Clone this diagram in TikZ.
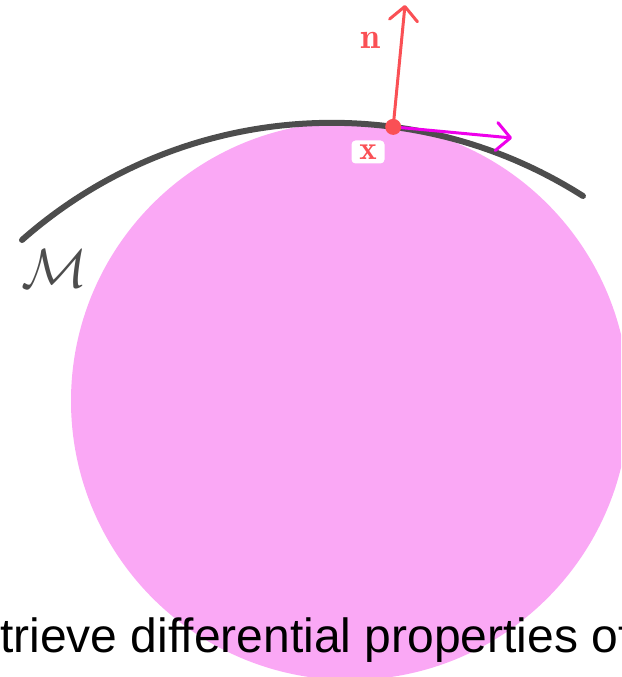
\documentclass[tikz,border=0pt]{standalone}
\usepackage{graphicx}
\usepackage{fontspec}
\newfontfamily\arialfont{Liberation Sans}
\usetikzlibrary{arrows.meta}
\definecolor{pinkfill}{RGB}{250,168,245}
\definecolor{curvegray}{RGB}{77,77,77}
\definecolor{normred}{RGB}{250,80,85}
\definecolor{tanmag}{RGB}{238,0,235}
\tikzset{
  manifold/.style={draw=curvegray, line width=6pt, line cap=round},
  vecarrow/.style={line width=3pt, line cap=round, line join=round,
    -{Straight Barb[length=14pt,width=28pt,line cap=round,line join=round]}},
  xlabel/.style={fill=white, rounded corners=4pt, minimum width=33pt, minimum height=23pt, inner sep=0pt, text=normred},
}
\begin{document}
\begin{tikzpicture}[x=1pt,y=1pt]
\useasboundingbox (0,0) rectangle (621,677);
\clip (0,0) rectangle (621,677);
% pink disk
\fill[pinkfill] (350,276) circle[radius=279];
% manifold curve
\draw[manifold] ([shift={(331.7,86.3)}]131.45:467.9) arc[start angle=131.45, end angle=57.52, radius=467.9];
\coordinate (x) at ([shift={(331.7,86.3)}]82.45:467.9);
\coordinate (ntip) at (405,672);
\coordinate (ttip) at (512,539);
% tangent and normal
\draw[vecarrow, tanmag] (x) -- (ttip);
\draw[vecarrow, normred] (x) -- (ntip);
\fill[normred] (x) circle[radius=8];
% labels
\node[text=normred, font=\normalsize] (nlab) at (371,637) {\scalebox{3.6}{$\mathbf{n}$}};
\node[xlabel, font=\normalsize] (xlab) at (368,525) {\scalebox{3.3}{$\mathbf{x}$}};
\node[text=curvegray, font=\normalsize] (mlab) at (55,408) {\scalebox{5.5}{$\mathcal{M}$}};
% caption text
\node[anchor=base west, inner sep=0pt, font=\arialfont\fontsize{48}{56}\selectfont] (cap) at (0,24) {trieve differential properties of};
\end{tikzpicture}
\end{document}
